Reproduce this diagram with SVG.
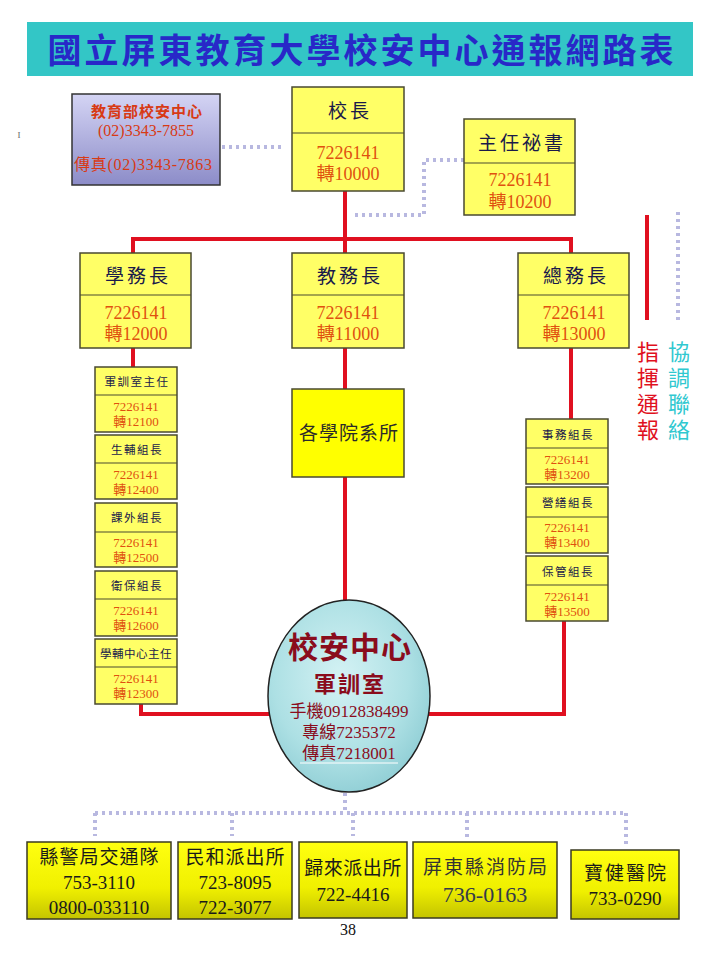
<svg xmlns="http://www.w3.org/2000/svg" width="720" height="960" viewBox="0 0 720 960">
<style>
text{font-family:"Liberation Serif","Noto Sans CJK TC",serif;text-anchor:middle}
.box{fill:#ffff66;stroke:#4a4a30;stroke-width:1.5}
.div{stroke:#4a4a30;stroke-width:1.2}
.ttl{fill:#1a1a4a;font-size:19px;letter-spacing:3px}
.num{fill:#e0500f;font-size:18px}
.sttl{fill:#1a1a4a;font-size:11.5px;letter-spacing:1.5px}
.snum{fill:#e0500f;font-size:13px}
.red{stroke:#e01020;stroke-width:4;fill:none}
.dot{stroke:#b8b8e0;stroke-width:4;stroke-dasharray:3 4;fill:none}
.bb{fill:url(#yg);stroke:#3a3a20;stroke-width:1.5}
.bt{fill:#1a1a1a;font-size:19px}
.bc{letter-spacing:2px}
</style>
<defs>
<linearGradient id="lav" x1="0" y1="0" x2="0" y2="1">
<stop offset="0" stop-color="#d4d4f4"/><stop offset="1" stop-color="#8c8cc8"/>
</linearGradient>
<linearGradient id="yg" x1="0" y1="0" x2="0" y2="1">
<stop offset="0" stop-color="#ffff10"/><stop offset="0.6" stop-color="#f0f000"/><stop offset="1" stop-color="#c4c400"/>
</linearGradient>
<radialGradient id="wat" cx="0.45" cy="0.4" r="0.7">
<stop offset="0" stop-color="#d4f2f4"/><stop offset="0.6" stop-color="#ade0e4"/><stop offset="1" stop-color="#86c8d0"/>
</radialGradient>
</defs>
<rect width="720" height="960" fill="#ffffff"/>

<g id="title">
<rect x="27" y="22" width="666" height="54" fill="#33c6c6"/>
<text x="362" y="63" style="font-size:34px;font-weight:bold;fill:#2828c8;letter-spacing:3px">國立屏東教育大學校安中心通報網路表</text>
</g>

<text x="19" y="138" style="font-size:9px;fill:#666">I</text>

<g id="connectors">
<path class="dot" d="M222 147 H284"/>
<path class="dot" d="M464 160 H424 V215 H352"/>
<path class="red" d="M345 191 V239"/>
<path class="red" d="M133 253 V239 H571 V253"/>
<path class="red" d="M345 239 V253"/>
<path class="red" d="M133 348 V367"/>
<path class="red" d="M345 348 V389"/>
<path class="red" d="M571 348 V419"/>
<path class="red" d="M345 477 V600"/>
<path class="red" d="M141 704 V714 H270"/>
<path class="red" d="M428 714 H564 V621"/>
<path class="red" d="M647 215 V320"/>
<path class="dot" d="M678 212 V320"/>
<path class="dot" d="M345 793 V813"/>
<path class="dot" d="M95 813 H624"/>
<path class="dot" d="M95 813 V836 M232 813 V836 M353 813 V836 M467 813 V840 M626 813 V846"/>
</g>

<g id="moe">
<rect x="72" y="94" width="148" height="91" fill="url(#lav)" stroke="#333" stroke-width="1.5"/>
<text x="147" y="117" style="font-size:15px;fill:#d83a14;font-weight:bold;letter-spacing:1px">教育部校安中心</text>
<text x="146" y="136" style="font-size:16px;fill:#d83a14">(02)3343-7855</text>
<text x="143" y="170" style="font-size:16px;fill:#d83a14" textLength="138" lengthAdjust="spacing">傳真(02)3343-7863</text>
</g>

<g id="president">
<rect class="box" x="292" y="87" width="112" height="104"/>
<line class="div" x1="292" y1="133" x2="404" y2="133"/>
<text class="ttl" x="350" y="118">校長</text>
<text class="num" x="348" y="159">7226141</text>
<text class="num" x="348" y="180">轉10000</text>
</g>

<g id="secretary">
<rect class="box" x="464" y="119" width="111" height="96"/>
<line class="div" x1="464" y1="163" x2="575" y2="163"/>
<text class="ttl" x="522" y="150">主任祕書</text>
<text class="num" x="520" y="186">7226141</text>
<text class="num" x="520" y="208">轉10200</text>
</g>

<g id="student-affairs">
<rect class="box" x="80" y="253" width="111" height="95"/>
<line class="div" x1="80" y1="295" x2="191" y2="295"/>
<text class="ttl" x="138" y="283">學務長</text>
<text class="num" x="136" y="319">7226141</text>
<text class="num" x="136" y="340">轉12000</text>
</g>

<g id="academic-affairs">
<rect class="box" x="292" y="253" width="112" height="95"/>
<line class="div" x1="292" y1="295" x2="404" y2="295"/>
<text class="ttl" x="350" y="283">教務長</text>
<text class="num" x="348" y="319">7226141</text>
<text class="num" x="348" y="340">轉11000</text>
</g>

<g id="general-affairs">
<rect class="box" x="518" y="253" width="111" height="95"/>
<line class="div" x1="518" y1="295" x2="629" y2="295"/>
<text class="ttl" x="576" y="283">總務長</text>
<text class="num" x="574" y="319">7226141</text>
<text class="num" x="574" y="340">轉13000</text>
</g>

<g id="labels">
<text x="648" y="360" style="font-size:22px;fill:#e01020">指</text>
<text x="648" y="386" style="font-size:22px;fill:#e01020">揮</text>
<text x="648" y="412" style="font-size:22px;fill:#e01020">通</text>
<text x="648" y="438" style="font-size:22px;fill:#e01020">報</text>
<text x="679" y="360" style="font-size:22px;fill:#30c8d0">協</text>
<text x="679" y="386" style="font-size:22px;fill:#30c8d0">調</text>
<text x="679" y="412" style="font-size:22px;fill:#30c8d0">聯</text>
<text x="679" y="438" style="font-size:22px;fill:#30c8d0">絡</text>
</g>

<g id="military-training" transform="translate(95,367)">
<rect class="box" width="82" height="65"/><line class="div" x1="0" y1="28" x2="82" y2="28"/>
<text class="sttl" x="42" y="19">軍訓室主任</text><text class="snum" x="41" y="44">7226141</text><text class="snum" x="41" y="59">轉12100</text>
</g>
<g id="life-guidance" transform="translate(95,435)">
<rect class="box" width="82" height="64"/><line class="div" x1="0" y1="28" x2="82" y2="28"/>
<text class="sttl" x="42" y="19">生輔組長</text><text class="snum" x="41" y="44">7226141</text><text class="snum" x="41" y="59">轉12400</text>
</g>
<g id="extracurricular" transform="translate(95,503)">
<rect class="box" width="82" height="64"/><line class="div" x1="0" y1="29" x2="82" y2="29"/>
<text class="sttl" x="42" y="19">課外組長</text><text class="snum" x="41" y="44">7226141</text><text class="snum" x="41" y="59">轉12500</text>
</g>
<g id="health" transform="translate(95,571)">
<rect class="box" width="82" height="65"/><line class="div" x1="0" y1="28" x2="82" y2="28"/>
<text class="sttl" x="42" y="19">衛保組長</text><text class="snum" x="41" y="44">7226141</text><text class="snum" x="41" y="59">轉12600</text>
</g>
<g id="counseling" transform="translate(95,639)">
<rect class="box" width="82" height="65"/><line class="div" x1="0" y1="28" x2="82" y2="28"/>
<text class="sttl" x="41" y="19" style="letter-spacing:0.5px">學輔中心主任</text><text class="snum" x="41" y="44">7226141</text><text class="snum" x="41" y="59">轉12300</text>
</g>

<g id="colleges">
<rect x="292" y="389" width="112" height="88" fill="#ffff00" stroke="#4a4a30" stroke-width="1.5"/>
<text x="349" y="440" style="font-size:19px;fill:#2a2a2a;letter-spacing:1px">各學院系所</text>
</g>

<g id="affairs" transform="translate(526,419)">
<rect class="box" width="82" height="65"/><line class="div" x1="0" y1="29" x2="82" y2="29"/>
<text class="sttl" x="42" y="20">事務組長</text><text class="snum" x="41" y="45">7226141</text><text class="snum" x="41" y="60">轉13200</text>
</g>
<g id="construction" transform="translate(526,487)">
<rect class="box" width="82" height="66"/><line class="div" x1="0" y1="30" x2="82" y2="30"/>
<text class="sttl" x="42" y="20">營繕組長</text><text class="snum" x="41" y="45">7226141</text><text class="snum" x="41" y="60">轉13400</text>
</g>
<g id="custody" transform="translate(526,556)">
<rect class="box" width="82" height="65"/><line class="div" x1="0" y1="29" x2="82" y2="29"/>
<text class="sttl" x="42" y="20">保管組長</text><text class="snum" x="41" y="45">7226141</text><text class="snum" x="41" y="60">轉13500</text>
</g>

<g id="safety-center">
<ellipse cx="349" cy="696" rx="81" ry="96" fill="url(#wat)" stroke="#222" stroke-width="1.5"/>
<text x="350" y="658" style="font-size:30px;font-weight:bold;fill:#8a0c1c;letter-spacing:1px">校安中心</text>
<text x="350" y="692" style="font-size:22px;font-weight:bold;fill:#8a0c1c;letter-spacing:2px">軍訓室</text>
<text x="349" y="717" style="font-size:17px;fill:#8a0c1c">手機0912838499</text>
<text x="349" y="738" style="font-size:17px;fill:#8a0c1c">專線7235372</text>
<text x="349" y="759" style="font-size:17px;fill:#8a0c1c">傳真7218001</text>
<line x1="300" y1="763" x2="398" y2="763" stroke="#ffffff" stroke-width="1"/>
</g>

<g id="traffic-police">
<rect class="bb" x="27" y="842" width="144" height="77"/>
<text class="bt" x="99.5" y="864" style="letter-spacing:1px">縣警局交通隊</text>
<text class="bt" x="99" y="889">753-3110</text>
<text class="bt" x="99" y="914">0800-033110</text>
</g>
<g id="minhe-police">
<rect class="bb" x="178" y="842" width="114" height="77"/>
<text class="bt" x="235.5" y="864" style="letter-spacing:1px">民和派出所</text>
<text class="bt" x="235" y="889">723-8095</text>
<text class="bt" x="235" y="914">722-3077</text>
</g>
<g id="guilai-police">
<rect class="bb" x="299" y="842" width="108" height="76"/>
<text class="bt" x="353" y="875" style="letter-spacing:0.5px">歸來派出所</text>
<text class="bt" x="353" y="901">722-4416</text>
</g>
<g id="fire-dept">
<rect class="bb" x="413" y="842" width="144" height="76"/>
<text x="486" y="874" style="font-size:19px;fill:#333;letter-spacing:2px">屏東縣消防局</text>
<text x="485" y="902" style="font-size:22px;fill:#333a4a">736-0163</text>
</g>
<g id="hospital">
<rect class="bb" x="571" y="850" width="108" height="69"/>
<text class="bt bc" x="626" y="880">寶健醫院</text>
<text class="bt" x="625" y="905">733-0290</text>
</g>

<text x="348" y="935" style="font-size:16px;fill:#111">38</text>
</svg>
